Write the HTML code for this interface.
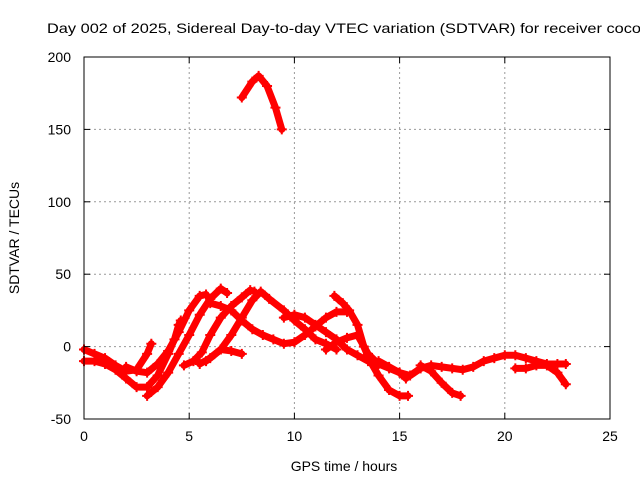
<!DOCTYPE html>
<html><head><meta charset="utf-8"><style>
body{margin:0;background:#fff}
svg{display:block;font-family:"Liberation Sans",sans-serif}
</style></head><body>
<svg id="chart" width="640" height="480" viewBox="0 0 640 480">
<rect width="640" height="480" fill="#fff"/>
<text x="344" y="33" font-size="14" text-anchor="middle" textLength="594" lengthAdjust="spacingAndGlyphs">Day 002 of 2025, Sidereal Day-to-day VTEC variation (SDTVAR) for receiver coco</text>
<g id="grid"></g>
<g id="series"></g>
<rect x="84" y="57" width="526" height="362" fill="none" stroke="#000" stroke-width="1"/>
<g id="ticks"></g>
<text x="344" y="471" font-size="14" text-anchor="middle">GPS time / hours</text>
<text x="0" y="0" font-size="14" text-anchor="middle" transform="translate(19,238) rotate(-90)">SDTVAR / TECUs</text>
</svg>
<script>
const xTicks=[0,5,10,15,20,25];
const yTicks=[-50,0,50,100,150,200];
const track1=[[7.5,172],[8.0,183],[8.3,187],[8.7,180],[9.1,165],[9.4,150]];
const track2=[[0,-2],[0.5,-5],[1,-8],[1.5,-13],[2,-17],[2.5,-16],[3,-5],[3.2,2]];
const track3=[[0,-10],[0.5,-10],[1,-12],[1.5,-16],[2,-22],[2.5,-28],[3,-28],[3.5,-20],[4,-5],[4.3,5],[4.5,15],[4.6,18]];
const track4=[[2,-14],[2.5,-17],[3,-18],[3.5,-12],[4,-3],[4.5,10],[5,25],[5.5,35],[5.8,36]];
const track5=[[3,-34],[3.5,-28],[4,-18],[4.5,-5],[5,8],[5.5,22],[6,33],[6.5,40],[6.8,37]];
const track6=[[4.75,-13],[5.2,-10],[5.6,-4],[6,8],[6.5,20],[7,28],[7.5,34],[7.9,39],[8.1,38]];
const track7=[[5.8,-10],[6.5,-2],[7,8],[7.5,20],[8,32],[8.4,38],[8.8,33],[9.5,25],[10,18],[10.5,12],[11,5],[11.5,2],[12,-2]];
const track8=[[6,30],[6.5,28],[7,25],[7.5,18],[8,12],[8.5,8],[9,5],[9.5,2],[10,3],[10.5,8],[11,14],[11.5,20],[12,24],[12.5,24]];
const track9=[[5.5,-12],[6,-8],[6.5,-2],[7,-3],[7.5,-5]];
const track10=[[9.5,20],[10,22],[10.5,20],[11,15],[11.5,10],[12,5],[12.5,-2],[13,-6],[13.5,-10],[14,-12]];
const track11=[[11.9,35],[12.3,30],[12.6,25],[13,15],[13.3,0],[13.6,-10],[14,-20],[14.5,-30],[15,-34],[15.4,-34]];
const track12=[[11.5,-2],[12,3],[12.5,6],[13,8],[13.5,-5],[14,-12],[14.5,-15],[15,-18],[15.5,-20],[16,-15],[16.5,-13],[17,-14],[17.5,-15],[18,-16],[18.5,-14],[19,-10],[19.5,-8],[20,-6],[20.5,-6],[21,-8],[21.5,-10],[22,-12],[22.5,-12],[22.9,-12]];
const track13=[[16,-13],[16.5,-17],[17,-25],[17.5,-32],[17.9,-34]];
const track14=[[14,-10],[14.5,-14],[15,-18],[15.3,-22]];
const track15=[[20.5,-15],[21,-15],[21.5,-13],[22,-13],[22.5,-18],[22.9,-26]];
const tracks=[track1,track2,track3,track4,track5,track6,track7,track8,track9,track10,track11,track12,track13,track14,track15];

const NS='http://www.w3.org/2000/svg';
const X0=84,X1=610,Y0=419,Y1=57;
const xs=h=>X0+(h-0)/(25-0)*(X1-X0);
const ys=v=>Y0-(v+50)/250*(Y0-Y1);
const grid=document.getElementById('grid'),ticks=document.getElementById('ticks'),ser=document.getElementById('series');
function mk(tag,attrs,parent){const e=document.createElementNS(NS,tag);for(const k in attrs)e.setAttribute(k,attrs[k]);parent.appendChild(e);return e;}
xTicks.forEach(t=>{
  const x=xs(t);
  if(t>0&&t<25){const g=mk('line',{x1:x,x2:x,y1:Y1,y2:Y0,stroke:'#999','stroke-dasharray':'2,3','stroke-width':1},grid);
  
  }
  mk('line',{x1:x,x2:x,y1:Y0,y2:Y0-6,stroke:'#000'},ticks);
  mk('line',{x1:x,x2:x,y1:Y1,y2:Y1+6,stroke:'#000'},ticks);
  const tx=mk('text',{x:x,y:Y0+22,'font-size':14,'text-anchor':'middle'},ticks);
  tx.textContent=t;
  
  
});
yTicks.forEach(t=>{
  const y=ys(t);
  if(t>-50&&t<200){const g=mk('line',{x1:X0,x2:X1,y1:y,y2:y,stroke:'#999','stroke-dasharray':'2,3','stroke-width':1},grid);
  
  }
  mk('line',{x1:X0,x2:X0+6,y1:y,y2:y,stroke:'#000'},ticks);
  mk('line',{x1:X1,x2:X1-6,y1:y,y2:y,stroke:'#000'},ticks);
  const tx=mk('text',{x:X0-13,y:y+5,'font-size':14,'text-anchor':'end'},ticks);
  tx.textContent=t;
  
  
});
tracks.forEach((tr,i)=>{
  const pl=mk('polyline',{points:tr.map(p=>xs(p[0])+','+ys(p[1])).join(' '),fill:'none',stroke:'#f00','stroke-width':7,'stroke-linejoin':'round','stroke-linecap':'round'},ser);
  
  
  tr.forEach(p=>{
    const x=xs(p[0]),y=ys(p[1]);
    const c=mk('path',{d:`M${x-5},${y}H${x+5}M${x},${y-5}V${y+5}`,stroke:'#f00','stroke-width':2},ser);
    
    
  });
});
</script>
</body></html>
